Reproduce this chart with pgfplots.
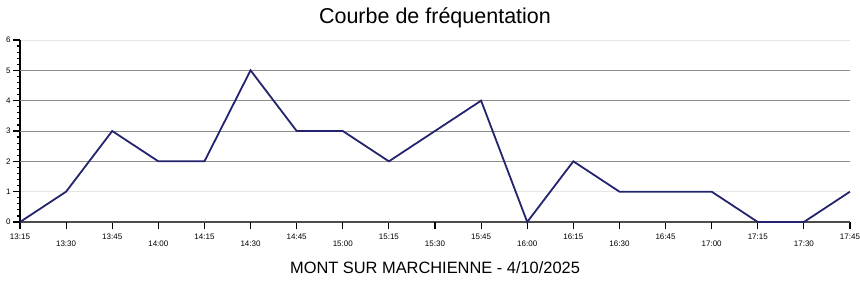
\documentclass[border=0pt]{standalone}
\usepackage{pgfplots}
\pgfplotsset{compat=1.18}
\usepackage{fontspec}
\setmainfont{Liberation Sans}
\definecolor{navyline}{RGB}{35,35,110}
\begin{document}
\begin{tikzpicture}[x=1pt,y=1pt]
\useasboundingbox (-20,-62) rectangle (840,222);
\begin{axis}[
  at={(0,0)}, anchor=south west,
  scale only axis, width=830pt, height=182pt,
  xmin=0, xmax=18, ymin=0, ymax=6,
  axis x line=bottom, axis y line=left,
  axis line style={-},
  x axis line style={draw=black!70, line width=1.6pt},
  y axis line style={draw=black, line width=1.2pt},
  xtick={0,2,...,18},
  xticklabels={13:15,13:45,14:15,14:45,15:15,15:45,16:15,16:45,17:15,17:45},
  extra x ticks={1,3,...,17},
  extra x tick labels={13:30,14:00,14:30,15:00,15:30,16:00,16:30,17:00,17:30},
  extra x tick style={tick label style={yshift=-7.5pt}},
  ytick={0,1,6},
  extra y ticks={2,3,4,5},
  extra y tick style={grid=major, major grid style={draw=black!45, line width=0.8pt}},
  minor ytick={0.2,0.4,0.6,0.8,1.2,1.4,1.6,1.8,2.2,2.4,2.6,2.8,3.2,3.4,3.6,3.8,4.2,4.4,4.6,4.8,5.2,5.4,5.6,5.8},
  ymajorgrids,
  major grid style={draw=black!10, line width=0.8pt},
  tick align=outside,
  xtick style={draw=black, line width=1.2pt},
  ytick style={draw=black, line width=1.2pt},
  major tick length=7pt,
  minor tick length=3.5pt,
  x tick label style={font=\fontsize{8}{9}\selectfont, yshift=-1pt},
  y tick label style={font=\fontsize{8}{9}\selectfont, xshift=1pt},
  /pgf/number format/assume math mode=true,
  title={Courbe de fréquentation},
  title style={at={(0.5,1)}, anchor=base, yshift=11pt, font=\fontsize{21.5}{24}\selectfont},
  xlabel={MONT SUR MARCHIENNE - 4/10/2025},
  xlabel style={at={(0.5,0)}, anchor=base, yshift=-51pt, font=\fontsize{16.4}{18}\selectfont},
  clip=false,
]
\addplot[navyline, line width=1.8pt, mark=none] coordinates {
(0,0) (1,1) (2,3) (3,2) (4,2) (5,5) (6,3) (7,3) (8,2) (9,3)
(10,4) (11,0) (12,2) (13,1) (14,1) (15,1) (16,0) (17,0) (18,1)
};
\end{axis}
\end{tikzpicture}
\end{document}
